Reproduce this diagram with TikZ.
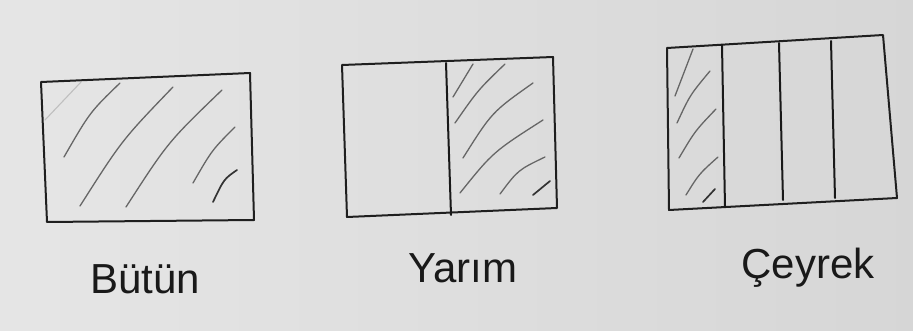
\documentclass[tikz,border=0pt]{standalone}
\usepackage{fontspec}
\setmainfont{Liberation Sans}
\begin{document}
\begin{tikzpicture}[x=1pt,y=-1pt,
  frame/.style={draw=black!88, line width=2pt, line join=round, line cap=round},
  divider/.style={draw=black!90, line width=2pt, line cap=round},
  hatch/.style={draw=black!60, line width=1.3pt, line cap=round},
  faint/.style={draw=black!25, line width=1.1pt, line cap=round},
  label/.style={font=\fontsize{42}{42}\selectfont, text=black!90, anchor=base, inner sep=0pt}]
  % background of the photographed sheet
  \shade[left color=black!10, right color=black!16] (0,0) rectangle (913,331);
  \useasboundingbox (0,0) rectangle (913,331);

  % --- Bütün (whole) ---
  \draw[frame] (41,82) -- (250,73) -- (254,220) -- (47,222) -- cycle;
  \draw[faint] (81,82) -- (45,120);
  \draw[hatch] (120,83) .. controls (90,112) .. (64,157);
  \draw[hatch] (173,87) .. controls (122,140) .. (80,206);
  \draw[hatch] (222,90) .. controls (168,142) .. (126,207);
  \draw[hatch] (235,127) .. controls (212,150) .. (193,183);
  \draw[hatch, line width=1.7pt, draw=black!80] (237,170) .. controls (224,179) .. (213,202);

  % --- Yarım (half) ---
  \draw[frame] (342,65) -- (553,57) -- (557,208) -- (347,217) -- cycle;
  \draw[divider] (446,63) -- (451,215);
  \draw[hatch] (473,64) -- (453,97);
  \draw[hatch] (505,64) .. controls (478,90) .. (455,123);
  \draw[hatch] (533,83) .. controls (492,112) .. (463,158);
  \draw[hatch] (543,120) .. controls (493,152) .. (460,193);
  \draw[hatch] (545,157) .. controls (518,170) .. (500,194);
  \draw[hatch, line width=1.7pt, draw=black!80] (550,181) -- (533,195);

  % --- Çeyrek (quarter) ---
  \draw[frame] (667,48) -- (883,35) -- (897,198) -- (669,210) -- cycle;
  \draw[divider] (722,45) -- (725,207);
  \draw[divider] (779,43) -- (783,200);
  \draw[divider] (831,41) -- (835,198);
  \draw[hatch] (693,49) -- (675,96);
  \draw[hatch] (710,71) .. controls (690,95) .. (677,123);
  \draw[hatch] (716,109) .. controls (695,131) .. (679,158);
  \draw[hatch] (718,157) .. controls (699,174) .. (686,195);
  \draw[hatch, line width=1.7pt, draw=black!80] (715,189) -- (703,202);

  % --- labels ---
  \node[label] (lbutun) at (145,293) {Bütün};
  \node[label] (lyarim) at (463,282) {Yarım};
  \node[label] (lceyrek) at (808,278) {Çeyrek};
\end{tikzpicture}
\end{document}
